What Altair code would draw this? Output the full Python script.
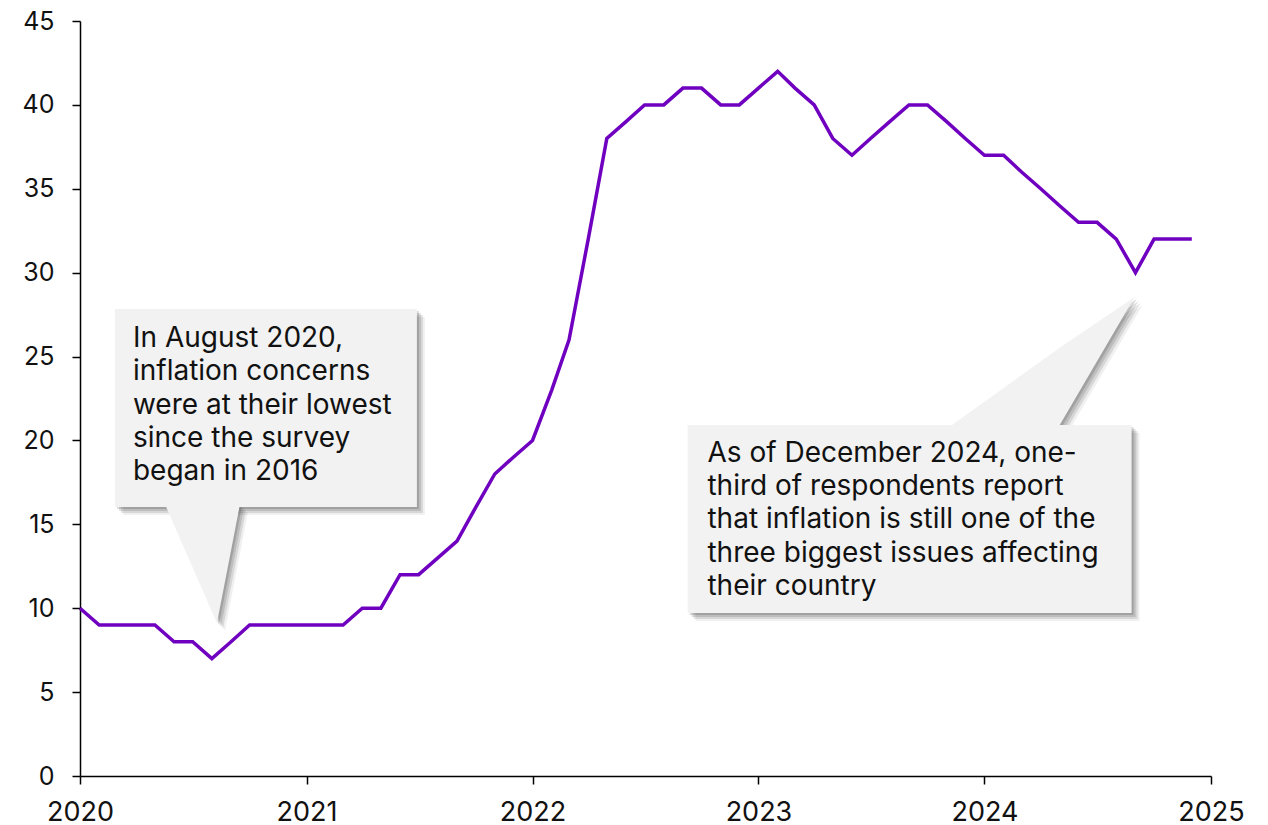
import altair as alt
import pandas as pd

# ---- data -------------------------------------------------------------
years = [2020, 2021, 2022, 2023, 2024]
values = [
    10, 9, 9, 9, 9, 8, 8, 7, 8, 9, 9, 9,        # 2020
    9, 9, 9, 10, 10, 12, 12, 13, 14, 16, 18, 19, # 2021
    20, 23, 26, 32, 38, 39, 40, 40, 41, 41, 40, 40,  # 2022
    41, 42, 41, 40, 38, 37, 38, 39, 40, 40, 39, 38,  # 2023
    37, 37, 36, 35, 34, 33, 33, 32, 30, 32, 32, 32,  # 2024
]
months = [f"{y}-{m:02d}-01" for y in years for m in range(1, 13)]
y_ticks = [0, 5, 10, 15, 20, 25, 30, 35, 40, 45]

note1 = "In August 2020,\ninflation concerns\nwere at their lowest\nsince the survey\nbegan in 2016"
note2 = ("As of December 2024, one-\nthird of respondents report\nthat inflation is still one of the\n"
         "three biggest issues affecting\ntheir country")

# callout geometry in data units (months since Jan 2020, value)
box1 = dict(x0=1.86, x1=17.88, y0=16.03, y1=27.83)
ptr1 = [(4.51, 16.2, 16.2), (7.27, 16.2, 9.12), (8.49, 16.2, 16.2)]
txt1 = (2.81, 25.57)
box2 = dict(x0=32.25, x1=55.81, y0=9.71, y1=20.92)
ptr2 = [(46.0, 20.7, 20.7), (51.88, 25.43, 20.7), (55.97, 28.55, 28.55)]
txt2 = (33.3, 18.73)


def mdate(m):
    return (pd.Timestamp("2020-01-01") + pd.Timedelta(days=m * 30.4375)).strftime("%Y-%m-%dT%H:%M:%SZ")


df = pd.DataFrame({"date": months, "value": values})

boxes = pd.DataFrame({
    "x": [mdate(box1["x0"]), mdate(box2["x0"])],
    "x2": [mdate(box1["x1"]), mdate(box2["x1"])],
    "y": [box1["y0"], box2["y0"]],
    "y2": [box1["y1"], box2["y1"]],
})
ptrs = pd.DataFrame(
    [{"id": 1, "x": mdate(a), "y": b, "y2": c} for a, b, c in ptr1]
    + [{"id": 2, "x": mdate(a), "y": b, "y2": c} for a, b, c in ptr2]
)
texts = pd.DataFrame({
    "x": [mdate(txt1[0]), mdate(txt2[0])],
    "y": [txt1[1], txt2[1]],
    "t": [note1.split("\n"), note2.split("\n")],
})

xscale = alt.Scale(type="utc", domain=["2020-01-01T00:00:00Z", "2025-01-01T00:00:00Z"])
yscale = alt.Scale(domain=[0, 45], nice=False)

X = alt.X("date:T", scale=xscale,
          axis=alt.Axis(title=None, format="%Y", formatType="utc",
                        tickCount=alt.TimeIntervalStep(interval="year", step=1),
                        labelPadding=15, labelFlush=False, labelFontSize=27))
Y = alt.Y("value:Q", scale=yscale,
          axis=alt.Axis(title=None, values=y_ticks, labelPadding=18, labelFontSize=25))

line = alt.Chart(df).mark_line(color="#7000C0", strokeWidth=3.5).encode(x=X, y=Y)

layers = [line]

# shadows
for d, op in [(2, 0.14), (4, 0.12), (6, 0.10), (8, 0.06)]:
    layers.append(
        alt.Chart(boxes).mark_rect(color="#000", opacity=op, xOffset=d, x2Offset=d, yOffset=d, y2Offset=d)
        .encode(x=alt.X("x:T", scale=xscale), x2="x2:T", y=alt.Y("y:Q", scale=yscale), y2="y2:Q")
    )
    layers.append(
        alt.Chart(ptrs).mark_area(color="#000", opacity=op, xOffset=d, yOffset=d, y2Offset=d)
        .encode(x=alt.X("x:T", scale=xscale), y=alt.Y("y:Q", scale=yscale), y2="y2:Q", detail="id:N")
    )

# fills
layers.append(
    alt.Chart(ptrs).mark_area(color="#f2f2f2", opacity=1)
    .encode(x=alt.X("x:T", scale=xscale), y=alt.Y("y:Q", scale=yscale), y2="y2:Q", detail="id:N")
)
layers.append(
    alt.Chart(boxes).mark_rect(color="#f2f2f2", opacity=1)
    .encode(x=alt.X("x:T", scale=xscale), x2="x2:T", y=alt.Y("y:Q", scale=yscale), y2="y2:Q")
)
layers.append(
    alt.Chart(texts).mark_text(align="left", baseline="alphabetic", font="Inter", fontSize=28,
                               lineHeight=33.3, color="#111")
    .encode(x=alt.X("x:T", scale=xscale), y=alt.Y("y:Q", scale=yscale), text="t")
)

chart = (
    alt.layer(*layers)
    .properties(width=1131, height=755,
                autosize=alt.AutoSizeParams(type="none"),
                padding={"left": 72, "top": 13, "right": 40, "bottom": 56})
    .configure_view(stroke=None)
    .configure_axis(grid=False, domainColor="#000", domainWidth=1.5, tickColor="#000",
                    tickWidth=1.5, tickSize=8, labelFont="Inter", labelColor="#111")
)

chart.save("out.html", embed_options={"renderer": "svg", "actions": False})
